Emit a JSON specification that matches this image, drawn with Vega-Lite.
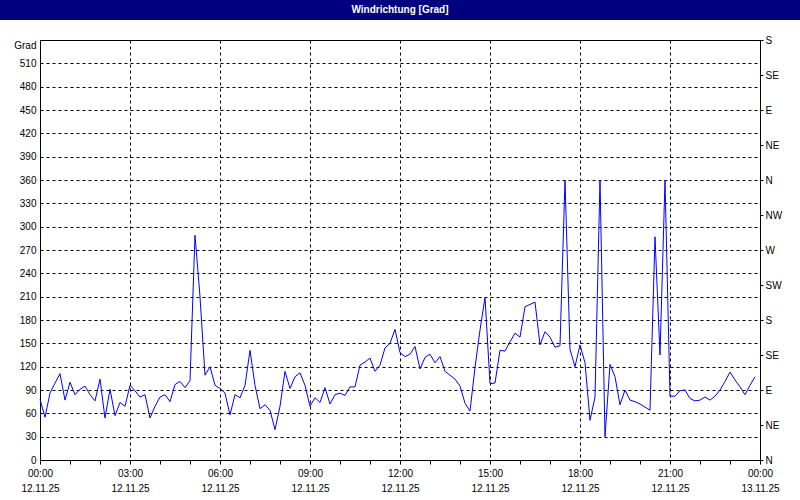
{
  "$schema": "https://vega.github.io/schema/vega-lite/v6.json",
  "padding": 0,
  "background": "white",
  "spacing": 20,
  "bounds": "flush",
  "center": true,
  "config": {
    "font": "Liberation Sans",
    "axis": {
      "labelFont": "Liberation Sans",
      "labelFontSize": 10,
      "labelColor": "black",
      "domainColor": "black",
      "tickColor": "black",
      "gridColor": "black",
      "gridDash": [3, 3],
      "gridWidth": 1,
      "title": null
    },
    "view": {"stroke": "black"}
  },
  "vconcat": [
    {
      "width": 800,
      "height": 20,
      "view": {"fill": "#000080", "stroke": null},
      "data": {"values": [{"title": "Windrichtung [Grad]"}]},
      "mark": {"type": "text", "color": "white", "font": "Liberation Sans", "fontSize": 10, "fontWeight": "bold", "align": "center", "baseline": "middle"},
      "encoding": {"text": {"field": "title", "type": "nominal"}}
    },
    {
      "width": 720,
      "height": 420,
      "data": {"values": [
        {"t":"2025-11-12T00:00","v":78},{"t":"2025-11-12T00:10","v":55},{"t":"2025-11-12T00:20","v":86},{"t":"2025-11-12T00:30","v":99},{"t":"2025-11-12T00:40","v":111},{"t":"2025-11-12T00:50","v":77},
        {"t":"2025-11-12T01:00","v":100},{"t":"2025-11-12T01:10","v":84},{"t":"2025-11-12T01:20","v":91},{"t":"2025-11-12T01:30","v":95},{"t":"2025-11-12T01:40","v":84},{"t":"2025-11-12T01:50","v":76},
        {"t":"2025-11-12T02:00","v":104},{"t":"2025-11-12T02:10","v":54},{"t":"2025-11-12T02:20","v":91},{"t":"2025-11-12T02:30","v":57},{"t":"2025-11-12T02:40","v":74},{"t":"2025-11-12T02:50","v":69},
        {"t":"2025-11-12T03:00","v":96},{"t":"2025-11-12T03:10","v":89},{"t":"2025-11-12T03:20","v":81},{"t":"2025-11-12T03:30","v":84},{"t":"2025-11-12T03:40","v":54},{"t":"2025-11-12T03:50","v":69},
        {"t":"2025-11-12T04:00","v":81},{"t":"2025-11-12T04:10","v":84},{"t":"2025-11-12T04:20","v":75},{"t":"2025-11-12T04:30","v":97},{"t":"2025-11-12T04:40","v":101},{"t":"2025-11-12T04:50","v":93},
        {"t":"2025-11-12T05:00","v":102},{"t":"2025-11-12T05:10","v":289},{"t":"2025-11-12T05:20","v":210},{"t":"2025-11-12T05:30","v":109},{"t":"2025-11-12T05:40","v":120},{"t":"2025-11-12T05:50","v":96},
        {"t":"2025-11-12T06:00","v":92},{"t":"2025-11-12T06:10","v":86},{"t":"2025-11-12T06:20","v":58},{"t":"2025-11-12T06:30","v":84},{"t":"2025-11-12T06:40","v":80},{"t":"2025-11-12T06:50","v":96},
        {"t":"2025-11-12T07:00","v":141},{"t":"2025-11-12T07:10","v":96},{"t":"2025-11-12T07:20","v":66},{"t":"2025-11-12T07:30","v":71},{"t":"2025-11-12T07:40","v":64},{"t":"2025-11-12T07:50","v":39},
        {"t":"2025-11-12T08:00","v":69},{"t":"2025-11-12T08:10","v":114},{"t":"2025-11-12T08:20","v":92},{"t":"2025-11-12T08:30","v":107},{"t":"2025-11-12T08:40","v":112},{"t":"2025-11-12T08:50","v":96},
        {"t":"2025-11-12T09:00","v":69},{"t":"2025-11-12T09:10","v":80},{"t":"2025-11-12T09:20","v":74},{"t":"2025-11-12T09:30","v":93},{"t":"2025-11-12T09:40","v":72},{"t":"2025-11-12T09:50","v":84},
        {"t":"2025-11-12T10:00","v":86},{"t":"2025-11-12T10:10","v":83},{"t":"2025-11-12T10:20","v":94},{"t":"2025-11-12T10:30","v":94},{"t":"2025-11-12T10:40","v":122},{"t":"2025-11-12T10:50","v":126},
        {"t":"2025-11-12T11:00","v":131},{"t":"2025-11-12T11:10","v":114},{"t":"2025-11-12T11:20","v":122},{"t":"2025-11-12T11:30","v":144},{"t":"2025-11-12T11:40","v":150},{"t":"2025-11-12T11:50","v":168},
        {"t":"2025-11-12T12:00","v":138},{"t":"2025-11-12T12:10","v":133},{"t":"2025-11-12T12:20","v":136},{"t":"2025-11-12T12:30","v":146},{"t":"2025-11-12T12:40","v":117},{"t":"2025-11-12T12:50","v":132},
        {"t":"2025-11-12T13:00","v":136},{"t":"2025-11-12T13:10","v":125},{"t":"2025-11-12T13:20","v":133},{"t":"2025-11-12T13:30","v":114},{"t":"2025-11-12T13:40","v":109},{"t":"2025-11-12T13:50","v":104},
        {"t":"2025-11-12T14:00","v":95},{"t":"2025-11-12T14:10","v":73},{"t":"2025-11-12T14:20","v":63},{"t":"2025-11-12T14:30","v":119},{"t":"2025-11-12T14:40","v":167},{"t":"2025-11-12T14:50","v":209},
        {"t":"2025-11-12T15:00","v":98},{"t":"2025-11-12T15:10","v":99},{"t":"2025-11-12T15:20","v":141},{"t":"2025-11-12T15:30","v":140},{"t":"2025-11-12T15:40","v":152},{"t":"2025-11-12T15:50","v":163},
        {"t":"2025-11-12T16:00","v":158},{"t":"2025-11-12T16:10","v":197},{"t":"2025-11-12T16:20","v":200},{"t":"2025-11-12T16:30","v":203},{"t":"2025-11-12T16:40","v":148},{"t":"2025-11-12T16:50","v":165},
        {"t":"2025-11-12T17:00","v":158},{"t":"2025-11-12T17:10","v":145},{"t":"2025-11-12T17:20","v":147},{"t":"2025-11-12T17:30","v":360},{"t":"2025-11-12T17:40","v":142},{"t":"2025-11-12T17:50","v":120},
        {"t":"2025-11-12T18:00","v":148},{"t":"2025-11-12T18:10","v":125},{"t":"2025-11-12T18:20","v":51},{"t":"2025-11-12T18:30","v":81},{"t":"2025-11-12T18:40","v":360},{"t":"2025-11-12T18:50","v":30},
        {"t":"2025-11-12T19:00","v":123},{"t":"2025-11-12T19:10","v":107},{"t":"2025-11-12T19:20","v":71},{"t":"2025-11-12T19:30","v":90},{"t":"2025-11-12T19:40","v":77},{"t":"2025-11-12T19:50","v":75},
        {"t":"2025-11-12T20:00","v":72},{"t":"2025-11-12T20:10","v":68},{"t":"2025-11-12T20:20","v":64},{"t":"2025-11-12T20:30","v":287},{"t":"2025-11-12T20:40","v":135},{"t":"2025-11-12T20:50","v":360},
        {"t":"2025-11-12T21:00","v":82},{"t":"2025-11-12T21:10","v":82},{"t":"2025-11-12T21:20","v":89},{"t":"2025-11-12T21:30","v":90},{"t":"2025-11-12T21:40","v":79},{"t":"2025-11-12T21:50","v":76},
        {"t":"2025-11-12T22:00","v":77},{"t":"2025-11-12T22:10","v":81},{"t":"2025-11-12T22:20","v":77},{"t":"2025-11-12T22:30","v":82},{"t":"2025-11-12T22:40","v":90},{"t":"2025-11-12T22:50","v":101},
        {"t":"2025-11-12T23:00","v":113},{"t":"2025-11-12T23:10","v":103},{"t":"2025-11-12T23:20","v":94},{"t":"2025-11-12T23:30","v":84},{"t":"2025-11-12T23:40","v":96},{"t":"2025-11-12T23:50","v":107}
      ]},
      "encoding": {
        "x": {
          "field": "t", "type": "temporal",
          "scale": {"domain": [{"year": 2025, "month": 11, "date": 12, "hours": 0}, {"year": 2025, "month": 11, "date": 13, "hours": 0}]},
          "axis": {
            "title": null,
            "values": [
              {"year": 2025, "month": 11, "date": 12, "hours": 0}, {"year": 2025, "month": 11, "date": 12, "hours": 1}, {"year": 2025, "month": 11, "date": 12, "hours": 2},
              {"year": 2025, "month": 11, "date": 12, "hours": 3}, {"year": 2025, "month": 11, "date": 12, "hours": 4}, {"year": 2025, "month": 11, "date": 12, "hours": 5},
              {"year": 2025, "month": 11, "date": 12, "hours": 6}, {"year": 2025, "month": 11, "date": 12, "hours": 7}, {"year": 2025, "month": 11, "date": 12, "hours": 8},
              {"year": 2025, "month": 11, "date": 12, "hours": 9}, {"year": 2025, "month": 11, "date": 12, "hours": 10}, {"year": 2025, "month": 11, "date": 12, "hours": 11},
              {"year": 2025, "month": 11, "date": 12, "hours": 12}, {"year": 2025, "month": 11, "date": 12, "hours": 13}, {"year": 2025, "month": 11, "date": 12, "hours": 14},
              {"year": 2025, "month": 11, "date": 12, "hours": 15}, {"year": 2025, "month": 11, "date": 12, "hours": 16}, {"year": 2025, "month": 11, "date": 12, "hours": 17},
              {"year": 2025, "month": 11, "date": 12, "hours": 18}, {"year": 2025, "month": 11, "date": 12, "hours": 19}, {"year": 2025, "month": 11, "date": 12, "hours": 20},
              {"year": 2025, "month": 11, "date": 12, "hours": 21}, {"year": 2025, "month": 11, "date": 12, "hours": 22}, {"year": 2025, "month": 11, "date": 12, "hours": 23},
              {"year": 2025, "month": 11, "date": 13, "hours": 0}
            ],
            "labelExpr": "hours(datum.value) % 3 == 0 ? split(timeFormat(datum.value, '%H:%M|%d.%m.%y'), '|') : ''",
            "grid": true,
            "gridOpacity": {"condition": {"test": "hours(datum.value) % 3 == 0", "value": 1}, "value": 0},
            "tickSize": 4,
            "labelPadding": 4,
            "labelLineHeight": 15,
            "labelOverlap": false,
            "labelFlush": false,
            "labelBound": false
          }
        }
      },
      "layer": [
        {
          "mark": {"type": "line", "color": "#0000ff", "strokeWidth": 1},
          "encoding": {
            "y": {
              "field": "v", "type": "quantitative",
              "scale": {"domain": [0, 540], "nice": false},
              "axis": {
                "title": null,
                "values": [0, 30, 60, 90, 120, 150, 180, 210, 240, 270, 300, 330, 360, 390, 420, 450, 480, 510, 540],
                "labelExpr": "datum.value == 540 ? 'Grad' : datum.label",
                "labelBaseline": {"condition": {"test": "datum.value == 540", "value": "top"}, "value": "middle"},
                "ticks": false,
                "labelPadding": 4,
                "grid": true
              }
            }
          }
        },
        {
          "mark": {"type": "line", "strokeOpacity": 0},
          "encoding": {
            "y": {
              "field": "v", "type": "quantitative",
              "scale": {"domain": [0, 540], "nice": false},
              "axis": {
                "orient": "right",
                "title": null,
                "values": [0, 45, 90, 135, 180, 225, 270, 315, 360, 405, 450, 495, 540],
                "labelExpr": "['N','NE','E','SE','S','SW','W','NW','N','NE','E','SE','S'][round(datum.value / 45)]",
                "tickSize": 3,
                "labelPadding": 2,
                "grid": false
              }
            }
          }
        }
      ],
      "resolve": {"scale": {"y": "independent"}}
    }
  ]
}
